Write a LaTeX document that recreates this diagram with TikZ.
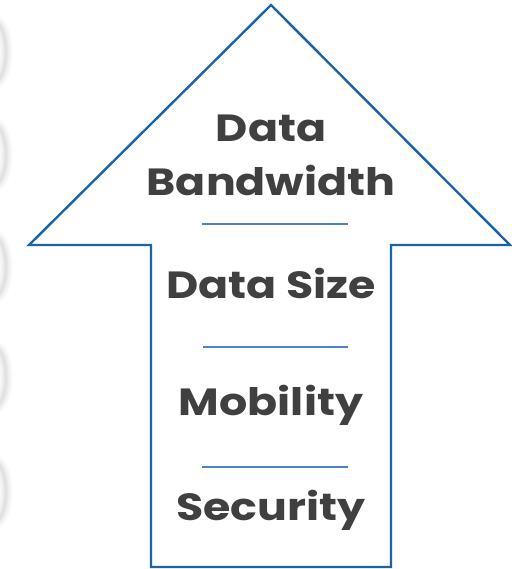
\documentclass[tikz,border=0pt]{standalone}
\usepackage{fontspec}
\setmainfont{Poppins}[UprightFont=* Bold, FakeStretch=1.17]
\definecolor{arrowblue}{HTML}{1B63A8}
\definecolor{ruleblue}{HTML}{4F80CF}
\definecolor{labelgrey}{HTML}{404040}
\tikzset{
  outline/.style={draw=arrowblue, line width=2.4bp, line join=miter},
  divider/.style={draw=ruleblue, line width=1.1bp},
  label/.style={text=labelgrey, anchor=base, inner sep=0pt, font=\fontsize{38}{42}\selectfont}
}
\begin{document}
\begin{tikzpicture}[x=1bp, y=-1bp]
\useasboundingbox (0,0) rectangle (512,569);
% faint blurred rings along the left edge
\foreach \yc in {52,155,267,377,492} {
  \foreach \w/\o in {14/0.03,11/0.04,8/0.05,5/0.06,3/0.07} {
    \draw[draw=gray, opacity=\o, line width=\w bp] (-6,\yc) ellipse [x radius=12, y radius=30];
  }
}
% the arrow
\draw[outline] (271,5) -- (510,245) -- (391,245) -- (391,567) -- (151,567) -- (151,245) -- (29,245) -- cycle;
% labels
\node[label] (data) at (271,142) {Data};
\node[label] (bandwidth) at (271,195) {Bandwidth};
\node[label] (size) at (271,298) {Data Size};
\node[label] (mobility) at (271,415) {Mobility};
\node[label] (security) at (271,520) {Security};
% dividers
\coordinate (d1l) at (202,224); \coordinate (d1r) at (348,224);
\coordinate (d2l) at (203,347); \coordinate (d2r) at (348,347);
\coordinate (d3l) at (202,467); \coordinate (d3r) at (348,467);
\draw[divider] (d1l) -- (d1r);
\draw[divider] (d2l) -- (d2r);
\draw[divider] (d3l) -- (d3r);
\end{tikzpicture}
\end{document}
